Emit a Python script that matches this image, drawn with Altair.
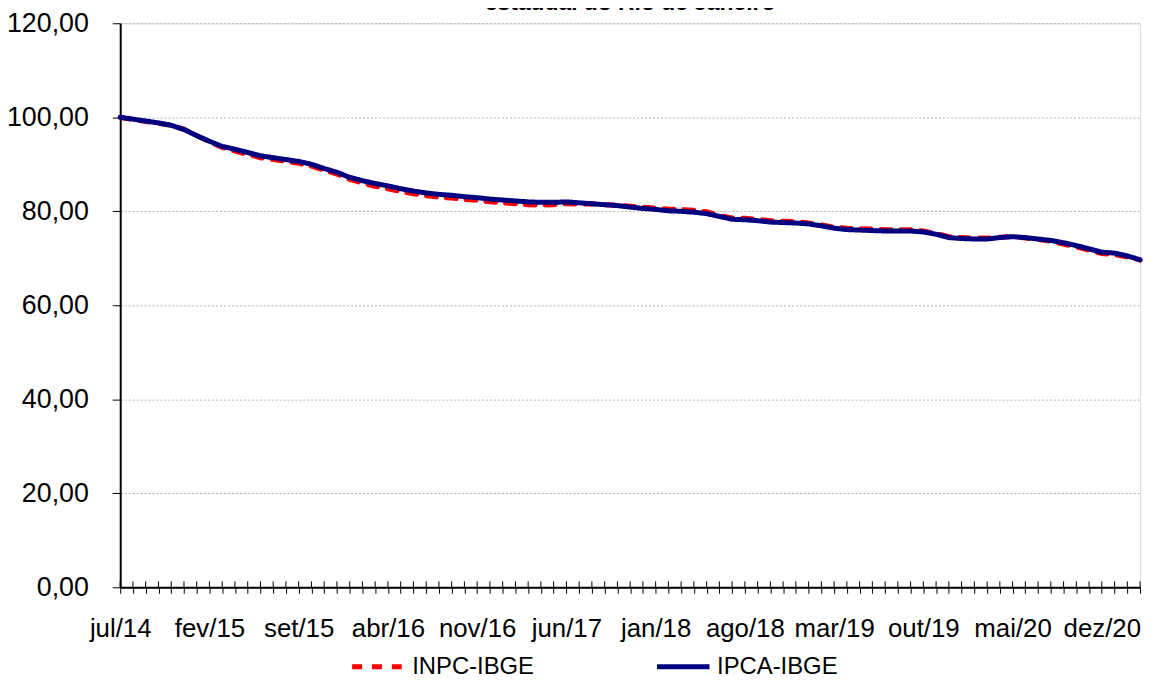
import altair as alt
import pandas as pd

MESES = ["jan", "fev", "mar", "abr", "mai", "jun", "jul", "ago", "set", "out", "nov", "dez"]
N_MONTHS = 81  # jul/14 .. mar/21
MONTHS = [f"{MESES[(6 + i) % 12]}/{14 + (6 + i) // 12}" for i in range(N_MONTHS)]

TICK_LABELS = ["jul/14", "fev/15", "set/15", "abr/16", "nov/16", "jun/17",
               "jan/18", "ago/18", "mar/19", "out/19", "mai/20", "dez/20"]

IPCA = [100.0, 99.6, 99.2, 98.8, 98.3, 97.4, 96.1, 94.9, 93.8, 93.2,
        92.5, 91.8, 91.4, 91.0, 90.6, 90.0, 89.1, 88.3, 87.2, 86.5,
        85.9, 85.4, 84.8, 84.3, 83.9, 83.6, 83.4, 83.1, 82.9, 82.6,
        82.4, 82.2, 82.0, 81.9, 81.9, 82.0, 81.8, 81.6, 81.4, 81.2,
        80.9, 80.6, 80.4, 80.1, 80.0, 79.8, 79.5, 78.9, 78.3, 78.2,
        78.0, 77.7, 77.6, 77.5, 77.3, 76.9, 76.4, 76.1, 76.0, 75.9,
        75.8, 75.8, 75.8, 75.6, 75.1, 74.4, 74.2, 74.1, 74.1, 74.4,
        74.6, 74.4, 74.1, 73.8, 73.3, 72.7, 72.0, 71.3, 71.1, 70.5,
        69.7]

INPC = [100.0, 99.5, 99.1, 98.7, 98.3, 97.5, 96.1, 94.8, 93.6, 92.8,
        92.1, 91.4, 91.0, 90.6, 90.2, 89.6, 88.7, 87.9, 86.8, 86.0,
        85.3, 84.8, 84.2, 83.7, 83.3, 83.0, 82.8, 82.5, 82.3, 82.0,
        81.8, 81.6, 81.4, 81.3, 81.4, 81.6, 81.5, 81.6, 81.4, 81.3,
        81.1, 80.9, 80.7, 80.5, 80.4, 80.2, 79.9, 79.1, 78.6, 78.5,
        78.3, 78.0, 77.9, 77.8, 77.5, 77.1, 76.6, 76.4, 76.3, 76.2,
        76.1, 76.1, 76.1, 75.8, 75.3, 74.6, 74.4, 74.3, 74.3, 74.5,
        74.6, 74.3, 74.0, 73.6, 73.0, 72.4, 71.7, 71.0, 70.8, 70.3,
        69.6]

SERIES = ["INPC-IBGE", "IPCA-IBGE"]
TITLE_TEXT = "estadual do Rio de Janeiro"

rows = []
for m, v in zip(MONTHS, INPC):
    rows.append({"mes": m, "serie": SERIES[0], "valor": v})
for m, v in zip(MONTHS, IPCA):
    rows.append({"mes": m, "serie": SERIES[1], "valor": v})
df = pd.DataFrame(rows)
df_months = pd.DataFrame({"mes": MONTHS})
df_title = pd.DataFrame({"t": [TITLE_TEXT]})

W, H = 1027, 568
FONT = "Liberation Sans"

tick_list = ",".join(f"'{t}'" for t in TICK_LABELS)
x_enc = alt.X(
    "mes:O", sort=MONTHS,
    scale=alt.Scale(type="point", padding=0),
    axis=alt.Axis(
        title=None, labelAngle=0, labelAlign="center", labelFontSize=26, labelFont=FONT,
        labelColor="black",
        labelExpr=f"indexof([{tick_list}], datum.value) >= 0 ? datum.value : ''",
        labelOverlap=False, labelPadding=36, tickSize=6, tickColor="black", tickWidth=1,
        domainColor="black", domainWidth=2, grid=False,
    ),
)

legend = alt.Legend(
    title=None, orient="none", direction="horizontal", legendX=231, legendY=619,
    symbolType="stroke", symbolSize=2800, symbolStrokeWidth=5,
    labelFontSize=24, labelFont=FONT, labelColor="black", columnPadding=113,
    labelOffset=5, columns=2,
)

lines = alt.Chart(df).mark_line(strokeWidth=5, strokeCap="round").encode(
    x=x_enc,
    y=alt.Y(
        "valor:Q",
        scale=alt.Scale(domain=[0, 120], nice=False, zero=True),
        axis=alt.Axis(
            title=None, values=[0, 20, 40, 60, 80, 100, 120],
            labelExpr="replace(format(datum.value, '.2f'), '.', ',')",
            labelFontSize=27, labelFont=FONT, labelColor="black", labelPadding=24,
            tickSize=8, tickColor="black", domainColor="black", domainWidth=2,
            grid=True, gridColor="#b0b0b0", gridDash=[2, 2], gridWidth=1,
        ),
    ),
    color=alt.Color("serie:N", scale=alt.Scale(domain=SERIES, range=["#FF0000", "#000080"]), legend=legend),
    strokeDash=alt.StrokeDash("serie:N", scale=alt.Scale(domain=SERIES, range=[[10, 10], [1, 0]]), legend=legend),
)

up_ticks = alt.Chart(df_months).mark_rule(color="black", strokeWidth=1).encode(
    x=alt.X("mes:O", sort=MONTHS, scale=alt.Scale(type="point", padding=0)),
    y=alt.value(H - 6), y2=alt.value(H),
)

title = alt.Chart(df_title).mark_text(
    font=FONT, fontSize=23, fontWeight="bold", baseline="alphabetic", align="center", color="black"
).encode(text="t:N", x=alt.value(W / 2), y=alt.value(-13))

chart = alt.layer(up_ticks, lines, title).properties(
    width=W, height=H,
    autosize=alt.AutoSizeParams(type="none"),
    padding={"left": 113, "top": 13, "right": 9, "bottom": 96},
).configure_view(stroke="black", strokeWidth=2).configure(background="white")

chart.save("out.html", embed_options={"renderer": "svg", "actions": False})
